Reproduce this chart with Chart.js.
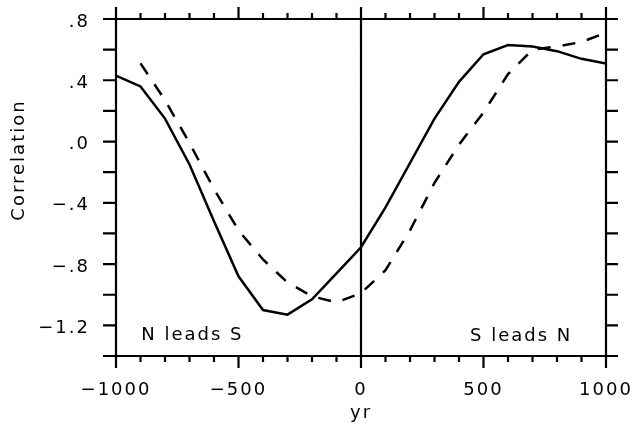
<!DOCTYPE html>
<html><head><meta charset="utf-8">
<script src="https://cdn.jsdelivr.net/npm/chart.js@4/dist/chart.umd.min.js"></script>
<style>html,body{margin:0;padding:0;background:#fff}canvas{display:block}</style>
</head><body>
<canvas id="c" width="632" height="430"></canvas>
<script>
// ---- data ----
const years = [-1000,-900,-800,-700,-600,-500,-400,-300,-200,-100,0,100,200,300,400,500,600,700,800,900,1000];
const solidCorr = [0.43,0.36,0.15,-0.15,-0.52,-0.88,-1.10,-1.13,-1.03,-0.86,-0.69,-0.43,-0.14,0.15,0.39,0.57,0.63,0.62,0.59,0.54,0.51];
const dashedCorr = [null,0.51,0.27,-0.01,-0.31,-0.58,-0.77,-0.92,-1.01,-1.05,-0.99,-0.84,-0.58,-0.27,-0.02,0.19,0.44,0.60,0.62,0.65,0.71];
const xTickValues = [-1000,-500,0,500,1000];
const xTickLabels = ['\u22121000','\u2212500','0','500','1000'];
const yTickValues = [0.8,0.4,0,-0.4,-0.8,-1.2];
const yTickLabels = ['.8','.4','.0','\u2212.4','\u2212.8','\u22121.2'];
const xMinorTicks = years;
const yMinorTicks = [-1.4,-1.2,-1.0,-0.8,-0.6,-0.4,-0.2,0,0.2,0.4,0.6,0.8];
const xTitle = 'yr';
const yTitle = 'Correlation';
const leftNote = 'N leads S';
const rightNote = 'S leads N';

const FONT = 'DejaVu Sans';
Chart.defaults.font.family = FONT;
Chart.defaults.font.size = 18;
Chart.defaults.color = '#000';

function noPad(s) { s.paddingTop = 0; s.paddingBottom = 0; s.paddingLeft = 0; s.paddingRight = 0; }

const framePlugin = {
  id: 'frame',
  beforeDraw(chart) {
    chart.ctx.letterSpacing = '2px';
  },
  afterDatasetsDraw(chart) {
    const {ctx, chartArea: a, scales: {x, y}} = chart;
    ctx.save();
    ctx.strokeStyle = '#000';
    ctx.lineWidth = 2.2;
    ctx.lineCap = 'butt';
    ctx.beginPath();
    ctx.rect(a.left, a.top, a.right - a.left, a.bottom - a.top);
    const x0 = x.getPixelForValue(0);
    ctx.moveTo(x0, a.top); ctx.lineTo(x0, a.bottom);
    xMinorTicks.forEach(v => {
      const px = x.getPixelForValue(v);
      const L = (v % 500 === 0) ? 12 : 6;
      ctx.moveTo(px, a.top); ctx.lineTo(px, a.top - L);
      ctx.moveTo(px, a.bottom); ctx.lineTo(px, a.bottom + L);
    });
    yMinorTicks.forEach(v => {
      const py = y.getPixelForValue(v);
      ctx.moveTo(a.left, py); ctx.lineTo(a.left - 13, py);
      ctx.moveTo(a.right, py); ctx.lineTo(a.right + 12, py);
    });
    ctx.stroke();

    ctx.fillStyle = '#000';
    ctx.letterSpacing = '2px';
    ctx.font = '18px "' + FONT + '"';
    ctx.textBaseline = 'alphabetic';
    ctx.textAlign = 'left';
    ctx.fillText(leftNote, x.getPixelForValue(-897), a.bottom - 16);
    ctx.fillText(rightNote, x.getPixelForValue(445), a.bottom - 15.5);

    ctx.translate(19, 160);
    ctx.rotate(-Math.PI / 2);
    ctx.textAlign = 'center';
    ctx.textBaseline = 'middle';
    ctx.fillText(yTitle, 0, 0);
    ctx.restore();
  }
};

new Chart(document.getElementById('c'), {
  type: 'line',
  data: {
    datasets: [
      {
        data: years.map((yr, i) => ({x: yr, y: solidCorr[i]})),
        borderColor: '#000', borderWidth: 2.5, pointRadius: 0, fill: false, tension: 0
      },
      {
        data: years.map((yr, i) => ({x: yr, y: dashedCorr[i]})),
        borderColor: '#000', borderWidth: 2.5, borderDash: [13, 12], pointRadius: 0, fill: false, tension: 0
      }
    ]
  },
  options: {
    responsive: false,
    animation: false,
    devicePixelRatio: 1,
    layout: {padding: {top: 19, right: 26, left: 0, bottom: 0}},
    plugins: {legend: {display: false}, tooltip: {enabled: false}},
    scales: {
      x: {
        type: 'linear', position: 'bottom', min: -1000, max: 1000,
        grid: {display: false, drawTicks: false, tickLength: 0},
        border: {display: false},
        afterBuildTicks: s => { s.ticks = xTickValues.map(v => ({value: v})); },
        afterFit: s => { s.height = 74; noPad(s); },
        ticks: {
          autoSkip: false, maxRotation: 0, padding: 24,
          callback: v => { const i = xTickValues.indexOf(v); return i >= 0 ? xTickLabels[i] : ''; }
        },
        title: {display: true, text: xTitle, padding: {top: 0, bottom: 6}}
      },
      y: {
        type: 'linear', position: 'left', min: -1.4, max: 0.8,
        grid: {display: false, drawTicks: false, tickLength: 0},
        border: {display: false},
        afterBuildTicks: s => { s.ticks = yTickValues.map(v => ({value: v})); },
        afterFit: s => { s.width = 116; noPad(s); },
        ticks: {
          autoSkip: false, padding: 26, labelOffset: 3,
          callback: v => { const i = yTickValues.findIndex(t => Math.abs(t - v) < 1e-9); return i >= 0 ? yTickLabels[i] : ''; }
        }
      }
    }
  },
  plugins: [framePlugin]
});
</script>
</body></html>
